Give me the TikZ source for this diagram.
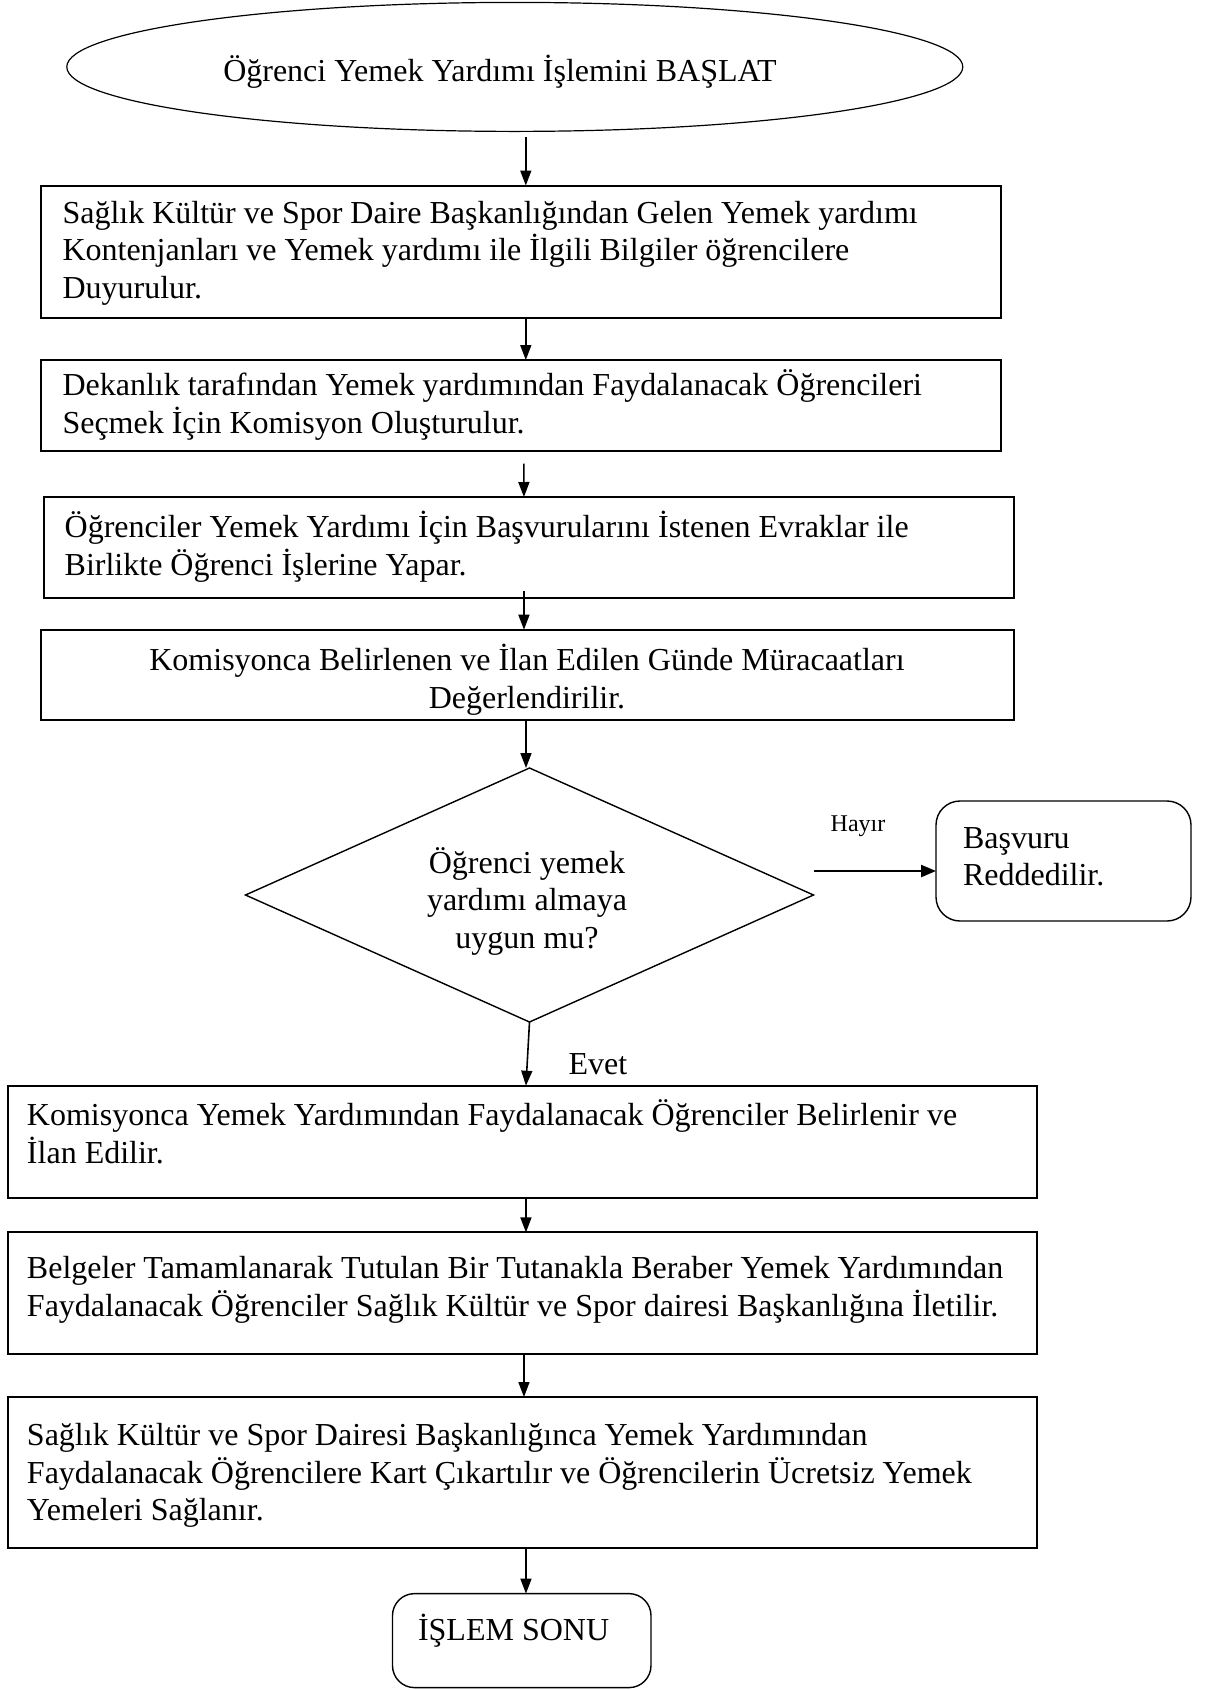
\documentclass[tikz,border=0pt]{standalone}
\usepackage{fontspec}
\setmainfont{Liberation Serif}
\usetikzlibrary{shapes.geometric,arrows.meta}
% multi-line text blocks whose baseline is that of the first line
\newcommand{\leftblock}[1]{\parbox[t]{1150pt}{\raggedright #1}}
\newcommand{\midblock}[1]{\parbox[t]{1000pt}{\centering #1}}
\begin{document}
\begin{tikzpicture}[x=1pt,y=-1pt,
  every node/.style={inner sep=0pt, outer sep=0pt},
  bodyfont/.style={font=\fontsize{32}{37.5}\selectfont},
  smallfont/.style={font=\fontsize{24}{28}\selectfont},
  stepbox/.style={draw, line width=2pt, rectangle, anchor=north west},
  roundbox/.style={draw, line width=1.4pt, rectangle, rounded corners=24pt, anchor=north west},
  lefttext/.style={bodyfont, anchor=base west},
  midtext/.style={bodyfont, anchor=base},
  arr/.style={line width=1.6pt, -{Triangle[length=15pt,width=11pt]}},
]
\useasboundingbox (0,0) rectangle (1214,1690);

% start
\node[draw, ellipse, line width=1.2pt, minimum width=896pt, minimum height=129pt] (start) at (514.8,66.9) {};
\node[midtext] (tstart) at (500,81.5) {Öğrenci Yemek Yardımı İşlemini BAŞLAT};

% process steps
\node[stepbox, minimum width=959.6pt, minimum height=132.5pt] (b1) at (41,185.5) {};
\node[lefttext] (t1) at (62.5,223) {\leftblock{Sağlık Kültür ve Spor Daire Başkanlığından Gelen Yemek yardımı\\
Kontenjanları ve Yemek yardımı ile İlgili Bilgiler öğrencilere\\ Duyurulur.}};

\node[stepbox, minimum width=959.6pt, minimum height=90.7pt] (b2) at (41,360) {};
\node[lefttext] (t2) at (62.5,395.5) {\leftblock{Dekanlık tarafından Yemek yardımından Faydalanacak Öğrencileri\\
Seçmek İçin Komisyon Oluşturulur.}};

\node[stepbox, minimum width=969.5pt, minimum height=101.4pt] (b3) at (44,497) {};
\node[lefttext] (t3) at (64.7,537.5) {\leftblock{Öğrenciler Yemek Yardımı İçin Başvurularını İstenen Evraklar ile\\
Birlikte Öğrenci İşlerine Yapar.}};

\node[stepbox, minimum width=972.5pt, minimum height=90.3pt] (b4) at (41,629.7) {};
\node[midtext] (t4) at (527,670.5) {\midblock{Komisyonca Belirlenen ve İlan Edilen Günde Müracaatları\\
Değerlendirilir.}};

% decision
\node[draw, diamond, line width=1.4pt, minimum width=568pt, minimum height=254pt] (dec) at (529.5,895) {};
\node[midtext] (tdec) at (527,873) {\midblock{Öğrenci yemek\\ yardımı almaya\\ uygun mu?}};

\node[roundbox, minimum width=255pt, minimum height=120pt] (rej) at (936,801) {};
\node[lefttext] (trej) at (963,848.3) {\leftblock{Başvuru\\ Reddedilir.}};
\node[smallfont, anchor=base] (lno) at (858,831) {Hayır};
\node[bodyfont, anchor=base] (lyes) at (598,1074.5) {Evet};

\node[stepbox, minimum width=1029.5pt, minimum height=112.3pt] (b5) at (7.5,1085.7) {};
\node[lefttext] (t5) at (27,1125.5) {\leftblock{Komisyonca Yemek Yardımından Faydalanacak Öğrenciler Belirlenir ve\\
İlan Edilir.}};

\node[stepbox, minimum width=1029.5pt, minimum height=121.6pt] (b6) at (7.5,1232.4) {};
\node[lefttext] (t6) at (27,1278.5) {\leftblock{Belgeler Tamamlanarak Tutulan Bir Tutanakla Beraber Yemek Yardımından\\
Faydalanacak Öğrenciler Sağlık Kültür ve Spor dairesi Başkanlığına İletilir.}};

\node[stepbox, minimum width=1029.5pt, minimum height=151pt] (b7) at (7.5,1397) {};
\node[lefttext] (t7) at (27,1445.5) {\leftblock{Sağlık Kültür ve Spor Dairesi Başkanlığınca Yemek Yardımından\\
Faydalanacak Öğrencilere Kart Çıkartılır ve Öğrencilerin Ücretsiz Yemek\\
Yemeleri Sağlanır.}};

% end
\node[roundbox, rounded corners=22pt, minimum width=258.5pt, minimum height=94pt] (endbox) at (392.5,1593.6) {};
\node[lefttext] (tend) at (418,1640.5) {İŞLEM SONU};

% connectors
\draw[arr] ([xshift=11pt,yshift=-6pt]start.south) -- ([xshift=5pt]b1.north);
\draw[arr] ([xshift=5pt]b1.south) -- ([xshift=5pt]b2.north);
\draw[arr] ([xshift=3pt,yshift=-13pt]b2.south) -- ([xshift=-4.8pt]b3.north);
\draw[arr] ([xshift=-4.8pt,yshift=7pt]b3.south) -- ([xshift=-3.3pt]b4.north);
\draw[arr] ([xshift=-1.3pt]b4.south) -- ([xshift=-3.5pt]dec.north);
\draw[line width=2.4pt, -{Triangle[length=15pt,width=12pt]}] ([yshift=24pt]dec.east) -- ([yshift=-10pt]rej.west);
\draw[arr] (dec.south) -- ([xshift=3.7pt]b5.north);
\draw[arr] ([xshift=3.7pt]b5.south) -- ([xshift=3.7pt]b6.north);
\draw[arr] ([xshift=1.7pt]b6.south) -- ([xshift=1.7pt]b7.north);
\draw[arr] ([xshift=3.7pt]b7.south) -- ([xshift=4.2pt]endbox.north);
\end{tikzpicture}
\end{document}
